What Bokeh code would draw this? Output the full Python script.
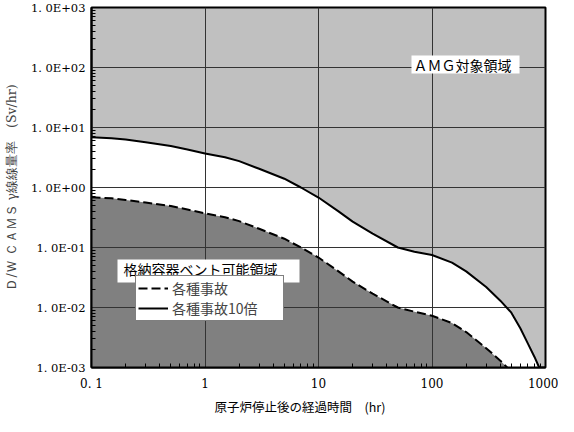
from bokeh.plotting import figure
from bokeh.models import (FixedTicker, Legend, LegendItem, Label, BoxAnnotation, Title)
from bokeh.embed import file_html
from bokeh.resources import INLINE

# ---- data ----
x_solid = [0.1, 0.15, 0.2, 0.3, 0.5, 0.7, 1, 1.5, 2, 3, 5, 7, 10, 15, 20, 30,
           50, 70, 100, 150, 200, 300, 400, 500, 600, 700, 800, 880]
y_solid = [6.9, 6.6, 6.3, 5.7, 4.9, 4.3, 3.7, 3.2, 2.75, 2.05, 1.40, 1.00, 0.68,
           0.40, 0.27, 0.17, 0.10, 0.085, 0.075, 0.056, 0.040, 0.022, 0.013,
           0.0082, 0.0045, 0.0025, 0.0015, 0.001]
x_dash = [0.1, 0.15, 0.2, 0.3, 0.5, 0.7, 1, 1.5, 2, 3, 5, 7, 10, 15, 20, 30,
          50, 70, 100, 150, 200, 300, 400, 460]
y_dash = [0.69, 0.66, 0.62, 0.56, 0.49, 0.43, 0.37, 0.32, 0.275, 0.205, 0.140,
          0.100, 0.068, 0.040, 0.027, 0.017, 0.010, 0.0085, 0.0073, 0.0055,
          0.0039, 0.0021, 0.0013, 0.001]
x_floor = 0.001

x_ticks = [0.1, 1, 10, 100, 1000]
x_tick_labels = ["0. 1", "1", "10", "100", "1000"]
y_ticks = [0.001, 0.01, 0.1, 1, 10, 100, 1000]
y_tick_labels = ["1. 0E-03", "1. 0E-02", "1. 0E-01", "1. 0E+00",
                 "1. 0E+01", "1. 0E+02", "1. 0E+03"]

series_labels = ["各種事故", "各種事故10倍"]
region_amg = "ＡＭＧ対象領域"
region_vent = "格納容器ベント可能領域"
x_title = "原子炉停止後の経過時間　(hr)"
y_title = "Ｄ/Ｗ ＣＡＭＳ γ線線量率　(Sv/hr)"

SERIF = "DejaVu Serif"
CJK = "Noto Sans CJK JP"

p = figure(width=558, height=416, x_axis_type="log", y_axis_type="log",
           x_range=(0.1, 1000), y_range=(0.001, 1000),
           output_backend="svg", toolbar_location=None,
           min_border_left=84, min_border_right=13, min_border_top=7,
           min_border_bottom=46)
p.background_fill_color = "#c0c0c0"
p.border_fill_color = "white"
p.outline_line_color = "black"
p.outline_line_width = 2

# fills
p.varea(x=x_solid, y1=[x_floor] * len(x_solid), y2=y_solid,
        fill_color="white", level="underlay")
p.varea(x=x_dash, y1=[x_floor] * len(x_dash), y2=y_dash,
        fill_color="#808080", level="underlay")

# lines
r_dash = p.line(x_dash, y_dash, line_color="black", line_width=2,
                line_dash="9 4")
r_solid = p.line(x_solid, y_solid, line_color="black", line_width=2)

# axes
def minors(lo, hi):
    out = []
    d = lo
    while d < hi:
        for m in range(2, 10):
            out.append(m * d)
        d *= 10
    return out

p.xaxis.ticker = FixedTicker(ticks=x_ticks, minor_ticks=minors(0.1, 1000))
p.yaxis.ticker = FixedTicker(ticks=y_ticks, minor_ticks=minors(0.001, 1000))
p.xaxis.major_label_overrides = dict(zip(x_ticks, x_tick_labels))
p.yaxis.major_label_overrides = dict(zip(y_ticks, y_tick_labels))

for ax in (p.xaxis[0], p.yaxis[0]):
    ax.axis_line_color = "black"
    ax.axis_line_width = 2
    ax.major_tick_in = 0
    ax.major_tick_out = 0
    ax.minor_tick_in = 4
    ax.minor_tick_out = 0
    ax.minor_tick_line_color = "black"
    ax.minor_tick_line_width = 1
    ax.major_label_text_font = SERIF
    ax.major_label_text_color = "black"

p.xaxis.major_label_text_font_size = "12px"
p.yaxis.major_label_text_font_size = "11.5px"
p.xaxis.major_label_standoff = 9
p.yaxis.major_label_standoff = 6
p.yaxis.axis_label = y_title
p.yaxis.axis_label_text_font = SERIF
p.yaxis.axis_label_text_font_style = "normal"
p.yaxis.axis_label_text_font_size = "12.5px"
p.yaxis.axis_label_standoff = 9

p.grid.grid_line_color = "#333333"
p.grid.grid_line_width = 1
p.grid.level = "underlay"
p.xgrid.minor_grid_line_color = None
p.ygrid.minor_grid_line_color = None

# x title (below axis, offset left like the reference)
p.add_layout(Title(text=x_title, align="left", offset=123,
                   text_font=CJK, text_font_size="12.5px",
                   text_font_style="normal", text_color="black",
                   standoff=2), "below")

# region labels
p.add_layout(BoxAnnotation(left=320, right=428, bottom=294, top=312,
                           left_units="screen", right_units="screen",
                           bottom_units="screen", top_units="screen",
                           fill_color="white", fill_alpha=1, line_color=None))
p.add_layout(Label(x=322, y=303, x_units="screen", y_units="screen",
                   text=region_amg, text_align="left", text_baseline="middle",
                   text_font=CJK, text_font_size="14px", text_color="black"))
p.add_layout(BoxAnnotation(left=26, right=208, bottom=85, top=108,
                           left_units="screen", right_units="screen",
                           bottom_units="screen", top_units="screen",
                           fill_color="white", fill_alpha=1, line_color=None))
p.add_layout(Label(x=32, y=99, x_units="screen", y_units="screen",
                   text=region_vent, text_align="left", text_baseline="middle",
                   text_font=CJK, text_font_size="14px", text_color="black"))

legend = Legend(items=[LegendItem(label=series_labels[0], renderers=[r_dash]),
                       LegendItem(label=series_labels[1], renderers=[r_solid])],
                location=(44, 46), margin=0, padding=2, spacing=0,
                glyph_width=30, glyph_height=16, label_height=16,
                label_standoff=4, label_width=109,
                label_text_font=CJK, label_text_font_size="14px",
                border_line_color="black", border_line_width=1,
                background_fill_color="white", background_fill_alpha=1)
p.add_layout(legend, "center")

open("out.html", "w").write(file_html(p, INLINE))
